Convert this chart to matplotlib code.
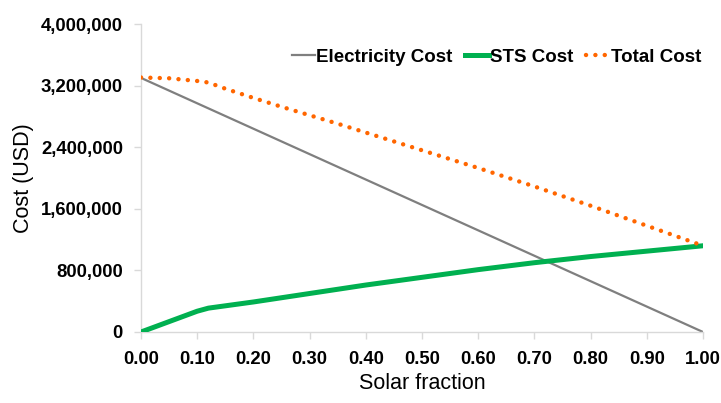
import matplotlib
matplotlib.use("Agg")
import matplotlib.pyplot as plt
from matplotlib.ticker import FuncFormatter

plt.rcParams['font.family'] = ['Liberation Sans', 'DejaVu Sans']

solar_fraction = [0.00, 0.05, 0.10, 0.12, 0.15, 0.20, 0.25, 0.30, 0.35, 0.40, 0.45,
                  0.50, 0.55, 0.60, 0.65, 0.70, 0.75, 0.80, 0.85, 0.90, 0.95, 1.00]
electricity_cost = [3300000, 3135000, 2970000, 2904000, 2805000, 2640000, 2475000,
                    2310000, 2145000, 1980000, 1815000, 1650000, 1485000, 1320000,
                    1155000, 990000, 825000, 660000, 495000, 330000, 165000, 0]
sts_cost = [0, 135000, 270000, 310000, 340000, 390000, 445000, 500000, 555000,
            610000, 660000, 710000, 760000, 810000, 855000, 900000, 940000, 980000,
            1015000, 1050000, 1085000, 1120000]
total_cost = [3305000, 3295000, 3260000, 3240000, 3160000, 3040000, 2925000,
              2815000, 2705000, 2590000, 2475000, 2360000, 2245000, 2130000,
              2010000, 1890000, 1765000, 1640000, 1510000, 1380000, 1250000, 1120000]

x_ticks = [0.0, 0.1, 0.2, 0.3, 0.4, 0.5, 0.6, 0.7, 0.8, 0.9, 1.0]
y_ticks = [0, 800000, 1600000, 2400000, 3200000, 4000000]

fig = plt.figure(figsize=(7.21, 4.03), dpi=100)
ax = fig.add_axes([141/721, 1-332/403, (703-141)/721, (332-24)/403])

ax.plot(solar_fraction, electricity_cost, color='#7f7f7f', lw=1.6, label='Electricity Cost', zorder=2)
ax.plot(solar_fraction, sts_cost, color='#00b050', lw=3.6, label='STS Cost', zorder=3)
ax.plot(solar_fraction, total_cost, color='#ff6600', lw=3.2, linestyle=(0, (0.01, 2.1)),
        dash_capstyle='round', label='Total Cost', zorder=4)

ax.set_xlim(0, 1.0)
ax.set_ylim(0, 4000000)
ax.set_xticks(x_ticks)
ax.set_yticks(y_ticks)
ax.xaxis.set_major_formatter(FuncFormatter(lambda v, p: f"{v:.2f}"))
ax.yaxis.set_major_formatter(FuncFormatter(lambda v, p: f"{int(round(v)):,}"))

for s in ['top', 'right']:
    ax.spines[s].set_visible(False)
for s in ['left', 'bottom']:
    ax.spines[s].set_color('#d9d9d9')
    ax.spines[s].set_linewidth(1.0)
ax.tick_params(axis='both', colors='#d9d9d9', length=5, width=1.0, labelcolor='#000000',
               labelsize=13.3)
ax.tick_params(axis='x', pad=9)
ax.tick_params(axis='y', pad=8)
for lab in ax.get_xticklabels() + ax.get_yticklabels():
    lab.set_fontweight('bold')

ax.set_xlabel('Solar fraction', fontsize=15.5, labelpad=3)
ax.set_ylabel('Cost (USD)', fontsize=15.5, labelpad=5)

leg = ax.legend(loc='upper right', bbox_to_anchor=(1.01, 0.945), ncol=3, frameon=False,
                prop={'weight': 'bold', 'size': 13.5}, handlelength=1.25,
                handletextpad=0.05, columnspacing=0.7, borderaxespad=0)

fig.savefig('out.png', dpi=100)
